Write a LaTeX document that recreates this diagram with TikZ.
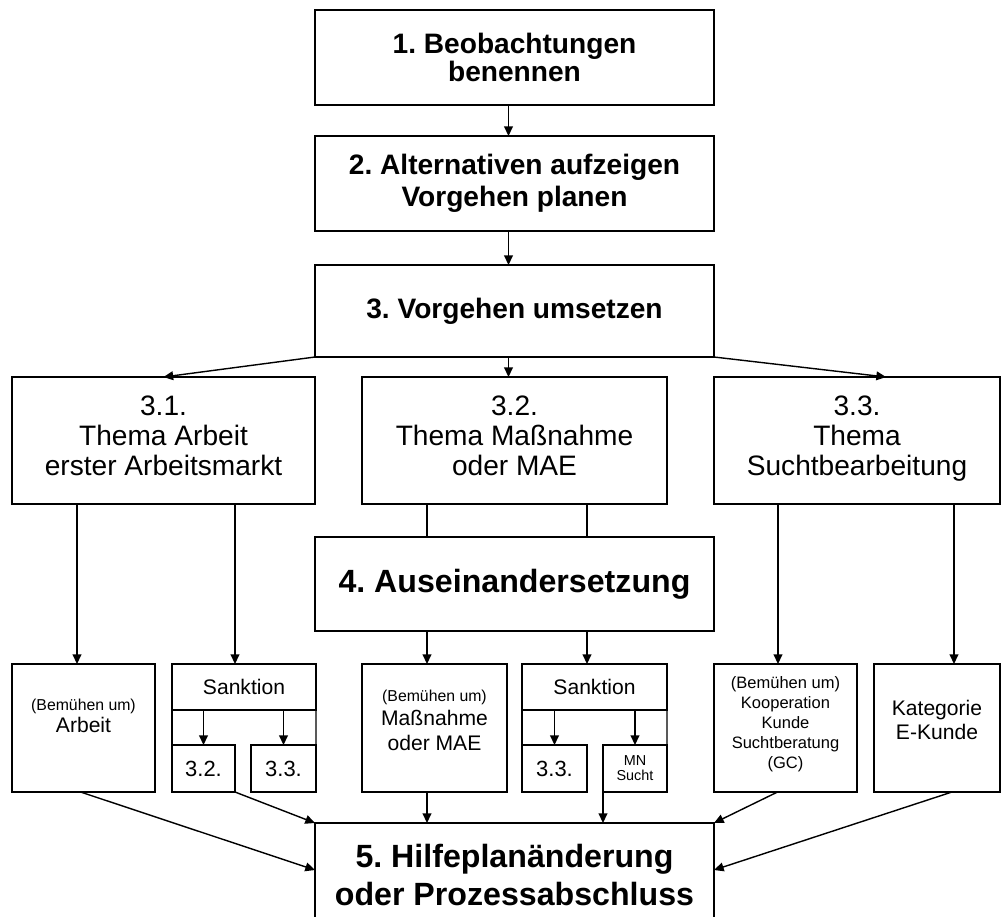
\documentclass[tikz,border=0pt]{standalone}
\usepackage{fontspec}
\setmainfont{Liberation Sans}
\usetikzlibrary{arrows.meta}
\usetikzlibrary{calc}
\tikzset{boxsize/.style 2 args={minimum width=#1*0.02cm, minimum height=#2*0.02cm}}
\frenchspacing

\begin{document}
\begin{tikzpicture}[x=0.02cm,y=-0.02cm]

          \tikzstyle{boxNode} = [draw, line width=0.8pt, inner sep=0pt, outer sep=0pt, align=center];
          \tikzstyle{stepNode} = [boxNode, font=\fontsize{16}{16}\selectfont\bfseries];
          \tikzstyle{bigStepNode} = [boxNode, font=\fontsize{18.3}{21.5}\selectfont\bfseries];
          \tikzstyle{themeNode} = [boxNode, font=\fontsize{16}{17}\selectfont, text depth=0.2cm];
          \tikzstyle{itemNode} = [boxNode, font=\fontsize{12}{14}\selectfont];

          \tikzstyle{normalEdge} = [line width=0.8pt];
          \tikzstyle{arrowEdge} = [line width=0.8pt, -{Triangle[length=5.5pt,width=5pt]}];

          \useasboundingbox (0,0) rectangle (1002,917);
          \clip (0,0) rectangle (1002,917);

          \node[stepNode, boxsize={399}{95}] (beob) at (514.5,57.5) {1. Beobachtungen\\benennen};
          \node[stepNode, boxsize={399}{95}] (alt) at (514.5,183.5) {2. Alternativen aufzeigen\\[2.5pt]Vorgehen planen};
          \node[stepNode, boxsize={399}{92}] (umsetz) at (514.5,311) {3. Vorgehen umsetzen};

          \node[themeNode, boxsize={303}{127}] (thema1) at (163.5,440.5) {3.1.\\Thema Arbeit\\erster Arbeitsmarkt};
          \node[themeNode, boxsize={305}{127}] (thema2) at (514.5,440.5) {3.2.\\Thema Maßnahme\\oder MAE};
          \node[themeNode, boxsize={286}{127}] (thema3) at (857,440.5) {3.3.\\Thema\\Suchtbearbeitung};

          \node[bigStepNode, boxsize={399}{94}] (ausein) at (514.5,584) {4. Auseinandersetzung};

          \node[itemNode, boxsize={143}{128}, text depth=0.5cm] (arbeit) at (83.5,728) {{\fontsize{9}{11}\selectfont (Bemühen um)}\\[-1.5pt]Arbeit};
          \node[itemNode, boxsize={144}{46}] (sankA) at (244,687) {Sanktion};
          \node[itemNode, boxsize={63}{47}, font=\fontsize{12.5}{14}\selectfont] (sankA1) at (203.5,768.5) {3.2.};
          \node[itemNode, boxsize={65}{47}, font=\fontsize{12.5}{14}\selectfont] (sankA2) at (283.5,768.5) {3.3.};
          \node[itemNode, boxsize={145}{128}, text depth=0.32cm] (massn) at (434.5,728) {{\fontsize{9}{11}\selectfont (Bemühen um)}\\Maßnahme\\oder MAE};
          \node[itemNode, boxsize={145}{46}] (sankB) at (594.5,687) {Sanktion};
          \node[itemNode, boxsize={65}{47}, font=\fontsize{12.5}{14}\selectfont] (sankB1) at (554.5,768.5) {3.3.};
          \node[itemNode, boxsize={64}{47}, font=\fontsize{8.2}{8.6}\selectfont] (sankB2) at (635,768.5) {MN\\Sucht};
          \node[itemNode, boxsize={143}{128}, font=\fontsize{9.4}{11.3}\selectfont, text depth=0.22cm] (koop) at (785.5,728) {(Bemühen um)\\Kooperation\\Kunde\\Suchtberatung\\(GC)};
          \node[itemNode, boxsize={126}{128}, text depth=0.32cm] (kateg) at (937,728) {Kategorie\\E-Kunde};

          \node[bigStepNode, boxsize={399}{104}] (hilfe) at (514.5,875) {5. Hilfeplanänderung\\oder Prozessabschluss};

          % steps 1 to 3
          \draw[arrowEdge] ($(beob.south)+(-6,0)$) -- ($(alt.north)+(-6,0)$);
          \draw[arrowEdge] ($(alt.south)+(-6,0)$) -- ($(umsetz.north)+(-6,0)$);
          \draw[arrowEdge] (umsetz.south west) -- (thema1.north);
          \draw[arrowEdge] ($(umsetz.south)+(-6,0)$) -- ($(thema2.north)+(-6,0)$);
          \draw[arrowEdge] (umsetz.south east) -- ($(thema3.north)+(29,0)$);

          % 3.1
          \draw[arrowEdge] ($(thema1.south -| arbeit)+(-6.5,0)$) -- ($(arbeit.north)+(-6.5,0)$);
          \draw[arrowEdge] ($(thema1.south -| sankA)+(-9,0)$) -- ($(sankA.north)+(-9,0)$);
          % 3.2
          \draw[normalEdge] ($(thema2.south -| massn)+(-7.5,0)$) -- ($(ausein.north -| massn)+(-7.5,0)$);
          \draw[normalEdge] ($(thema2.south -| sankB)+(-7.5,0)$) -- ($(ausein.north -| sankB)+(-7.5,0)$);
          \draw[arrowEdge] ($(ausein.south -| massn)+(-7.5,0)$) -- ($(massn.north)+(-7.5,0)$);
          \draw[arrowEdge] ($(ausein.south -| sankB)+(-7.5,0)$) -- ($(sankB.north)+(-7.5,0)$);
          % 3.3
          \draw[arrowEdge] ($(thema3.south -| koop)+(-7.5,0)$) -- ($(koop.north)+(-7.5,0)$);
          \draw[arrowEdge] ($(thema3.south -| kateg)+(17,0)$) -- ($(kateg.north)+(17,0)$);

          % Sanktion
          \draw[arrowEdge] (sankA.south -| sankA1) -- (sankA1);
          \draw[arrowEdge] (sankA.south -| sankA2) -- (sankA2);
          \draw[normalEdge] (sankA.south west) -- (sankA1.north west);
          \draw[normalEdge] (sankA.south east) -- (sankA2.north east);
          \draw[arrowEdge] (sankB.south -| sankB1) -- (sankB1);
          \draw[arrowEdge] (sankB.south -| sankB2) -- (sankB2);
          \draw[normalEdge] (sankB.south west) -- (sankB1.north west);
          \draw[normalEdge] (sankB.south east) -- (sankB2.north east);

          % to 5
          \draw[arrowEdge] ($(arbeit.south)+(-3,0)$) -- ($(hilfe.west)+(0,-5)$);
          \draw[arrowEdge] (sankA1.south east) -- (hilfe.north west);
          \draw[arrowEdge] ($(massn.south)+(-7.5,0)$) -- ($(hilfe.north -| massn)+(-7.5,0)$);
          \draw[arrowEdge] (sankB2.south west) -- (hilfe.north -| sankB2.south west);
          \draw[arrowEdge] ($(koop.south)+(-8,0)$) -- (hilfe.north east);
          \draw[arrowEdge] ($(kateg.south)+(15,0)$) -- ($(hilfe.east)+(0,-5)$);
        \end{tikzpicture}
\end{document}
